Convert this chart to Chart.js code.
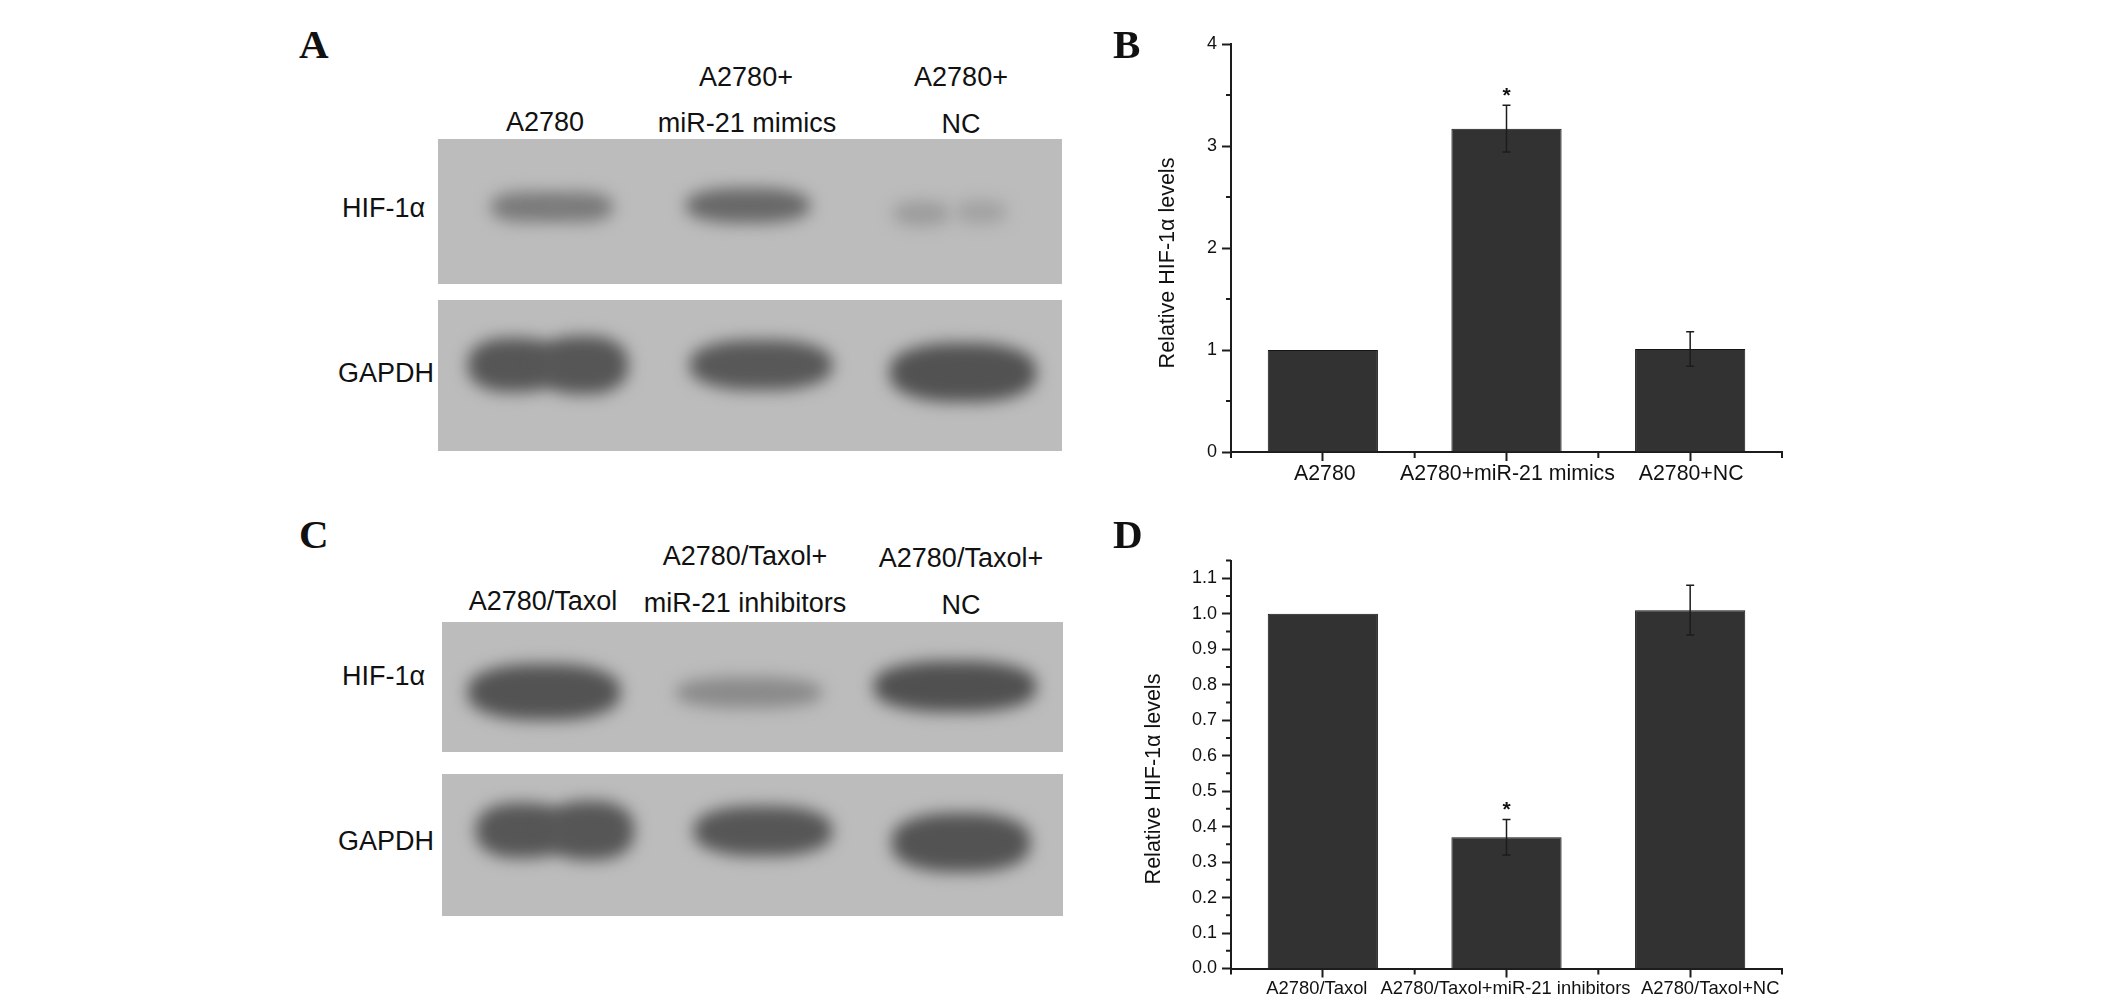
<!DOCTYPE html>
<html>
<head>
<meta charset="utf-8">
<title>HIF-1α levels</title>
<script src="https://cdn.jsdelivr.net/npm/chart.js@4"></script>
<style>
    html, body { margin: 0; padding: 0; background: #fff; }
    #page { position: relative; width: 2126px; height: 1008px; overflow: hidden; font-family: "Liberation Sans", sans-serif; color: #111; }
    #page canvas { position: absolute; }
    .txt { position: absolute; white-space: nowrap; font-size: 27px; line-height: 30px; }
    .letter { position: absolute; font-family: "Liberation Serif", serif; font-weight: bold; font-size: 41px; line-height: 44px; }
    .blot { position: absolute; background: #bcbcbc; overflow: hidden; }
    .band { position: absolute; border-radius: 42%; filter: blur(8px); }
</style>
</head>
<body>
<div id="page">
    <canvas id="chartB"></canvas>
    <canvas id="chartD"></canvas>
</div>
<script>
// Panel B
const categoriesB = ['A2780', 'A2780+miR-21 mimics', 'A2780+NC'];
const valuesB = [1, 3.17, 1.01];
const errorsB = [0, 0.23, 0.17];
const starsB = [false, true, false];
const yTicksB = [0, 1, 2, 3, 4];
const yMinorB = [0.5, 1.5, 2.5, 3.5];

// Panel D
const categoriesD = ['A2780/Taxol', 'A2780/Taxol+miR-21 inhibitors', 'A2780/Taxol+NC'];
const valuesD = [1, 0.37, 1.01];
const errorsD = [0, 0.05, 0.07];
const starsD = [false, true, false];
const yTicksD = [0, 0.1, 0.2, 0.3, 0.4, 0.5, 0.6, 0.7, 0.8, 0.9, 1.0, 1.1];
const yMinorD = [0.05, 0.15, 0.25, 0.35, 0.45, 0.55, 0.65, 0.75, 0.85, 0.95, 1.05, 1.15];

const axisColor = '#1c1c1c';
const page = document.getElementById('page');

// blots, panels A and C
function addText(cls, text, x, y, centered) {
    const el = document.createElement('div');
    el.className = cls;
    el.textContent = text;
    el.style.left = x + 'px';
    el.style.top = (y - 15) + 'px';
    if (centered) el.style.transform = 'translateX(-50%)';
    page.appendChild(el);
}

function addBlot(x0, x1, y0, y1, bands) {
    const blot = document.createElement('div');
    blot.className = 'blot';
    blot.style.cssText = `left:${x0}px;top:${y0}px;width:${x1 - x0}px;height:${y1 - y0}px`;
    bands.forEach(b => {
        const el = document.createElement('div');
        el.className = 'band';
        el.style.cssText = `left:${b[0] - x0}px;top:${b[2] - y0}px;width:${b[1] - b[0]}px;height:${b[3] - b[2]}px;background:${b[4]}`;
        blot.appendChild(el);
    });
    page.appendChild(blot);
}

addBlot(438, 1062, 139, 284, [
    [491, 562, 192, 222, '#7a7a7a'], [542, 613, 192, 222, '#7a7a7a'],
    [686, 810, 188, 223, '#686868'],
    [893, 950, 201, 226, '#9c9c9c'], [955, 1007, 200, 224, '#a2a2a2']
]);
addBlot(438, 1062, 300, 451, [
    [468, 560, 338, 392, '#565656'], [538, 628, 336, 394, '#565656'],
    [690, 832, 340, 390, '#585858'],
    [890, 1036, 343, 402, '#525252']
]);
addBlot(442, 1063, 622, 752, [
    [468, 620, 664, 720, '#535353'],
    [676, 822, 677, 708, '#8a8a8a'],
    [874, 1036, 661, 712, '#505050']
]);
addBlot(442, 1063, 774, 916, [
    [476, 568, 803, 858, '#565656'], [546, 634, 801, 860, '#565656'],
    [694, 832, 806, 856, '#565656'],
    [892, 1030, 813, 872, '#535353']
]);

addText('letter', 'A', 299, 37);
addText('letter', 'C', 299, 527);
addText('letter', 'B', 1113, 37);
addText('letter', 'D', 1113, 527);

addText('txt', 'A2780', 545, 122, true);
addText('txt', 'A2780+', 746, 77, true);
addText('txt', 'miR-21 mimics', 747, 123, true);
addText('txt', 'A2780+', 961, 77, true);
addText('txt', 'NC', 961, 124, true);
addText('txt', 'HIF-1α', 342, 208);
addText('txt', 'GAPDH', 338, 373);

addText('txt', 'A2780/Taxol', 543, 601, true);
addText('txt', 'A2780/Taxol+', 745, 556, true);
addText('txt', 'miR-21 inhibitors', 745, 603, true);
addText('txt', 'A2780/Taxol+', 961, 558, true);
addText('txt', 'NC', 961, 605, true);
addText('txt', 'HIF-1α', 342, 676);
addText('txt', 'GAPDH', 338, 841);

// ticks between categories, minor y ticks, error bars, stars and the shifted labels
const extrasPlugin = {
    id: 'extras',
    afterDatasetsDraw(chart, args, opts) {
        const ctx = chart.ctx;
        const x = chart.scales.x;
        const y = chart.scales.y;
        const half = (x.getPixelForValue(1) - x.getPixelForValue(0)) / 2;
        ctx.save();
        ctx.strokeStyle = axisColor;
        ctx.fillStyle = '#111';

        // minor ticks
        ctx.lineWidth = 2;
        ctx.beginPath();
        for (let i = 0; i <= opts.categories.length; i++) {
            const px = x.getPixelForValue(0) - half + i * half * 2;
            ctx.moveTo(px, y.bottom);
            ctx.lineTo(px, y.bottom + 6);
        }
        opts.yMinor.forEach(v => {
            const py = y.getPixelForValue(v);
            ctx.moveTo(x.left, py);
            ctx.lineTo(x.left - 5, py);
        });
        ctx.stroke();

        // error bars
        ctx.lineWidth = 1.5;
        opts.values.forEach((v, i) => {
            if (!opts.errors[i]) return;
            const px = x.getPixelForValue(i);
            const top = y.getPixelForValue(v + opts.errors[i]);
            const low = y.getPixelForValue(v - opts.errors[i]);
            ctx.beginPath();
            ctx.moveTo(px, top);
            ctx.lineTo(px, low);
            ctx.moveTo(px - 4, top);
            ctx.lineTo(px + 4, top);
            ctx.moveTo(px - 4, low);
            ctx.lineTo(px + 4, low);
            ctx.stroke();
            if (opts.stars[i]) {
                ctx.font = 'bold 21px "Liberation Sans"';
                ctx.textAlign = 'center';
                ctx.textBaseline = 'middle';
                ctx.fillText('*', px, top - 9);
            }
        });

        // x labels
        ctx.font = opts.labelFont;
        ctx.textAlign = 'center';
        ctx.textBaseline = 'middle';
        opts.categories.forEach((c, i) => {
            ctx.fillText(c, x.getPixelForValue(i) + opts.labelShift[i], opts.labelY);
        });

        // y title
        ctx.font = '21.5px "Liberation Sans"';
        ctx.translate(opts.titleX, opts.titleY);
        ctx.rotate(-Math.PI / 2);
        ctx.fillText('Relative HIF-1α levels', 0, 0);
        ctx.restore();
    }
};

function makeChart(id, left, top, width, height, plotTop, plotBottom, cfg) {
    const canvas = document.getElementById(id);
    canvas.width = width;
    canvas.height = height;
    canvas.style.left = left + 'px';
    canvas.style.top = top + 'px';
    return new Chart(canvas, {
        type: 'bar',
        data: {
            labels: cfg.categories,
            datasets: [{
                data: cfg.values,
                backgroundColor: '#323232',
                borderColor: '#141414',
                borderWidth: 1,
                barPercentage: 0.6,
                categoryPercentage: 1
            }]
        },
        plugins: [extrasPlugin],
        options: {
            responsive: false,
            animation: false,
            layout: { padding: { top: plotTop, right: 38, left: 0, bottom: 0 } },
            plugins: {
                legend: { display: false },
                tooltip: { enabled: false },
                extras: cfg
            },
            scales: {
                x: {
                    grid: { offset: false, drawOnChartArea: false, drawTicks: true, tickLength: 9, tickColor: axisColor, tickWidth: 2 },
                    border: { color: axisColor, width: 2 },
                    ticks: { display: false },
                    afterFit: (scale) => { scale.height = height - plotBottom; }
                },
                y: {
                    min: 0,
                    max: cfg.yMax,
                    afterBuildTicks: (scale) => { scale.ticks = cfg.yTicks.map(v => ({ value: v })); },
                    afterFit: (scale) => { scale.width = 131; },
                    grid: { drawOnChartArea: false, drawTicks: true, tickLength: 9, tickColor: axisColor, tickWidth: 2 },
                    border: { color: axisColor, width: 2 },
                    ticks: {
                        autoSkip: false,
                        padding: 5,
                        color: '#111',
                        font: { family: '"Liberation Sans"', size: 18 },
                        callback: (v) => v.toFixed(cfg.yDigits)
                    }
                }
            }
        }
    });
}

const chartB = makeChart('chartB', 1100, 0, 720, 500, 44, 452, {
    categories: categoriesB, values: valuesB, errors: errorsB, stars: starsB,
    yTicks: yTicksB, yMinor: yMinorB, yMax: 4, yDigits: 0,
    labelShift: [2, 1, 1], labelY: 474, labelFont: '21.3px "Liberation Sans"',
    titleX: 68.5, titleY: 263
});

const chartD = makeChart('chartD', 1100, 510, 720, 498, 50.5, 458.5, {
    categories: categoriesD, values: valuesD, errors: errorsD, stars: starsD,
    yTicks: yTicksD, yMinor: yMinorD, yMax: 1.15, yDigits: 1,
    labelShift: [-6, -1, 20], labelY: 479, labelFont: '18.4px "Liberation Sans"',
    titleX: 54, titleY: 269
});
</script>
</body>
</html>
